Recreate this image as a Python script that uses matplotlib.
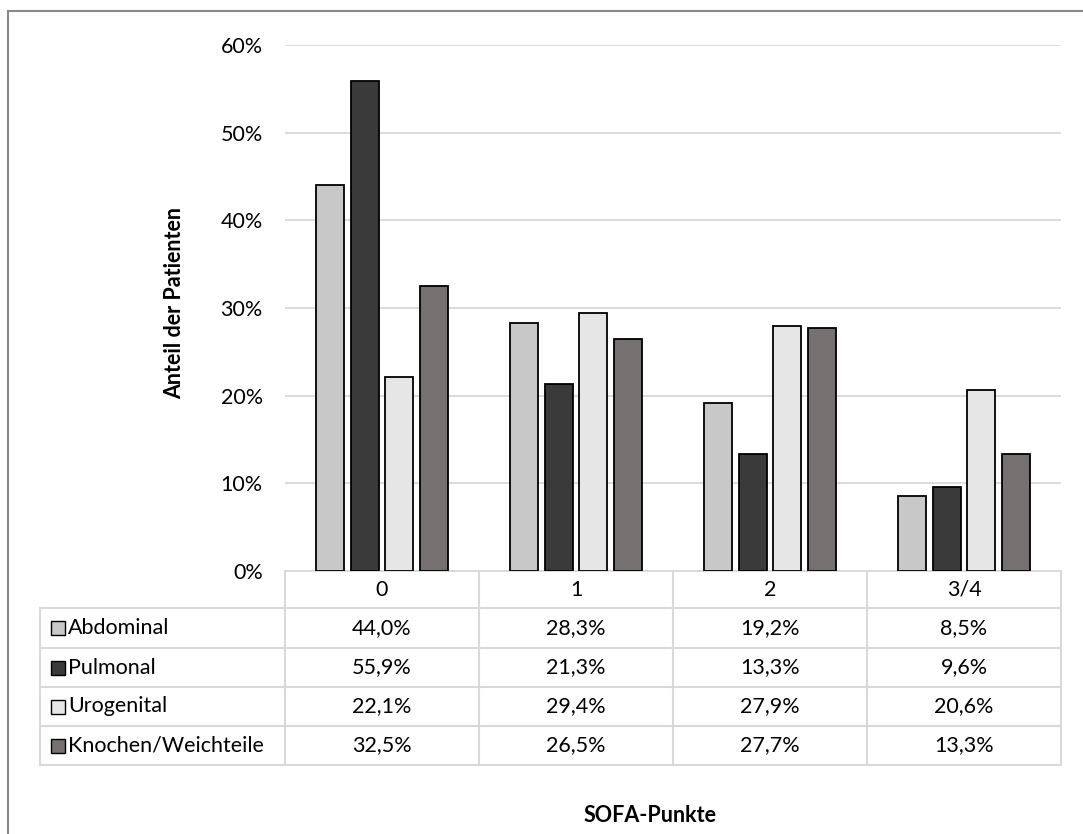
import matplotlib.pyplot as plt
from matplotlib.lines import Line2D
from matplotlib.transforms import blended_transform_factory

plt.rcParams["font.family"] = ["Lato", "DejaVu Sans"]

# SOFA-Punkte je Infektfokus (Anteil der Patienten)
categories = ["0", "1", "2", "3/4"]
series_names = ["Abdominal", "Pulmonal", "Urogenital", "Knochen/Weichteile"]
abdominal = [44.0, 28.3, 19.2, 8.5]
pulmonal = [55.9, 21.3, 13.3, 9.6]
urogenital = [22.1, 29.4, 27.9, 20.6]
knochen = [32.5, 26.5, 27.7, 13.3]
series_values = [abdominal, pulmonal, urogenital, knochen]
colors = ["#c8c8c8", "#3a3a3a", "#e6e6e6", "#767171"]
yticks = [0, 10, 20, 30, 40, 50, 60]

W, H = 1083, 834
FS = 15.5
fig = plt.figure(figsize=(W / 100, H / 100), dpi=100)


def fx(px):
    return px / W


def fy(py):
    return 1 - py / H


ax = fig.add_axes([fx(285), fy(571), fx(1061) - fx(285), fy(45) - fy(571)])

width = 0.144
step = 0.18
for i, (name, vals, col) in enumerate(zip(series_names, series_values, colors)):
    xs = [k + (i - 1.5) * step for k in range(len(categories))]
    ax.bar(xs, [v / 100 for v in vals], width=width, color=col,
           edgecolor="black", linewidth=1.3, zorder=3)

ax.set_xlim(-0.5, len(categories) - 0.5)
ax.set_ylim(0, 0.6)
ax.set_yticks([t / 100 for t in yticks])
ax.set_yticklabels([f"{t}%" for t in yticks], fontsize=FS)
ax.set_xticks([])
ax.tick_params(axis="y", length=0, pad=16)
ax.grid(axis="y", color="#d9d9d9", linewidth=1.3, zorder=0)
for s in ["top", "right", "left"]:
    ax.spines[s].set_visible(False)
ax.spines["bottom"].set_color("#d9d9d9")
ax.spines["bottom"].set_linewidth(1.3)
ax.set_ylabel("Anteil der Patienten", fontsize=FS, fontweight="bold")
ax.yaxis.set_label_coords(fx(185 - 285) / (fx(1061) - fx(285)), 0.51)

# Datentabelle unter dem Diagramm
trans = blended_transform_factory(ax.transData, fig.transFigure)
grid_kw = dict(color="#d9d9d9", linewidth=1.5, transform=fig.transFigure)
rows_y = [608, 648, 687, 726, 765]
for y in rows_y:
    fig.add_artist(Line2D([fx(40), fx(1061)], [fy(y), fy(y)], **grid_kw))
fig.add_artist(Line2D([fx(40), fx(40)], [fy(608), fy(765)], **grid_kw))
for k in range(len(categories) + 1):
    fig.add_artist(Line2D([k - 0.5, k - 0.5], [fy(571), fy(765)],
                          color="#d9d9d9", linewidth=1.5, transform=trans))

for k, cat in enumerate(categories):
    fig.text(k, fy(590), cat, transform=trans, ha="center", va="center", fontsize=FS)

for r, (name, vals, col) in enumerate(zip(series_names, series_values, colors)):
    yc = fy((rows_y[r] + rows_y[r + 1]) / 2)
    fig.add_artist(Line2D([fx(58)], [yc], marker="s", markersize=10,
                          markerfacecolor=col, markeredgecolor="black",
                          markeredgewidth=1.0, transform=fig.transFigure))
    fig.text(fx(68), yc, name, ha="left", va="center", fontsize=FS)
    for k, v in enumerate(vals):
        label = f"{v:.1f}%".replace(".", ",")
        fig.text(k, yc, label, transform=trans, ha="center", va="center", fontsize=FS)

fig.text(fx(650), fy(815), "SOFA-Punkte", ha="center", va="center",
         fontsize=FS, fontweight="bold")

# Rahmen links und oben
border_kw = dict(color="#888888", linewidth=1.5, transform=fig.transFigure)
fig.add_artist(Line2D([fx(8), fx(8)], [fy(11), 0], **border_kw))
fig.add_artist(Line2D([fx(8), 1], [fy(11), fy(11)], **border_kw))

fig.savefig("out.png", dpi=100)
